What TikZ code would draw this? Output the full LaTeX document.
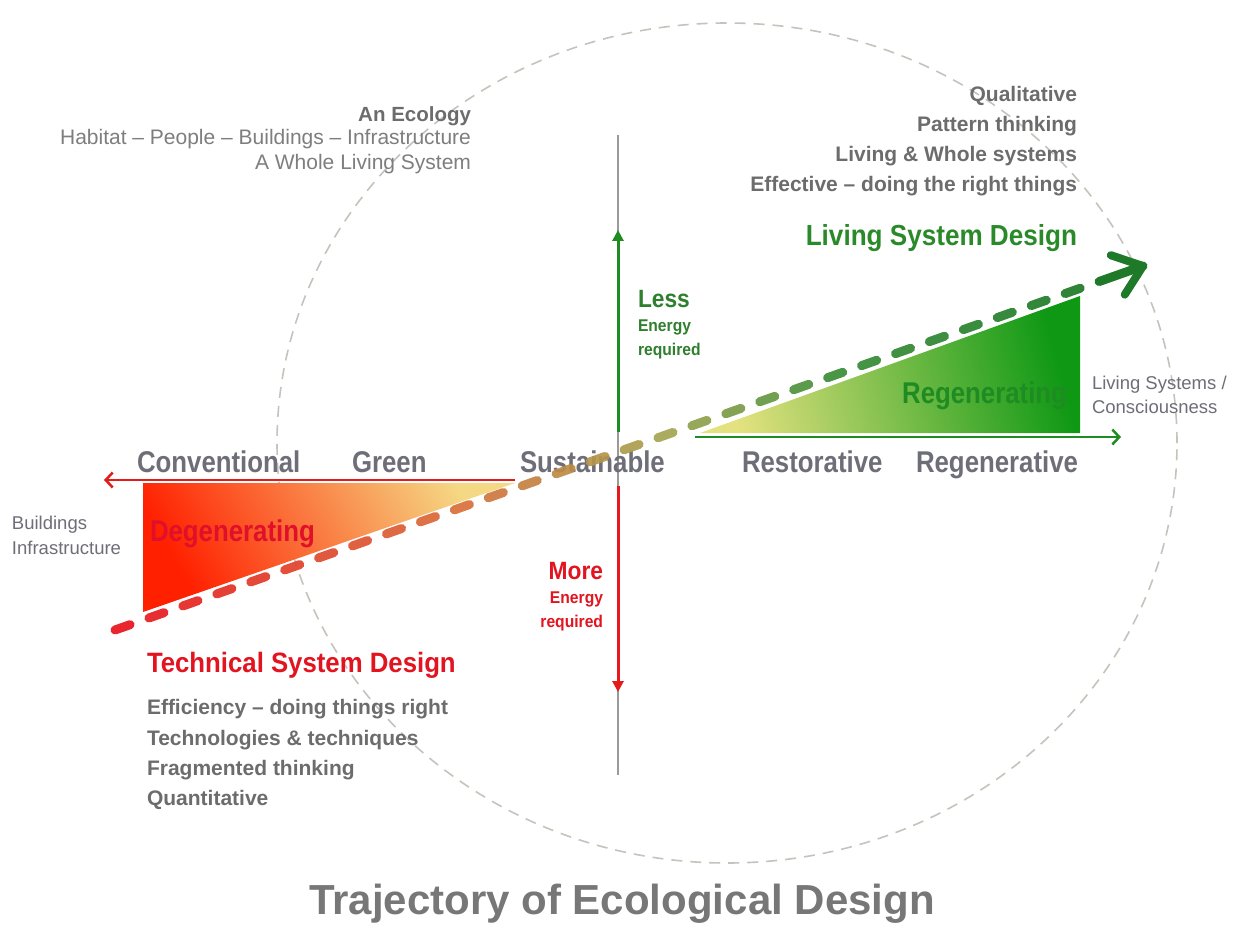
\documentclass[tikz,border=0pt]{standalone}
\usepackage{fontspec}
\setmainfont{Liberation Sans}
\usetikzlibrary{calc,arrows.meta}
\definecolor{tgray}{HTML}{6C6C6C}
\definecolor{lgray}{HTML}{7E7E7E}
\definecolor{cgray}{HTML}{6E6E78}
\definecolor{titlegray}{HTML}{777777}
\definecolor{cred}{HTML}{E2141F}
\definecolor{degred}{HTML}{E0102A}
\definecolor{cgreen}{HTML}{2A8A2A}
\definecolor{dgreen}{HTML}{1E8C22}
\definecolor{lessgreen}{HTML}{2F7F2F}
\definecolor{circ}{HTML}{C4C4BC}
\definecolor{axisgray}{HTML}{9A9A9A}
\definecolor{aRed}{HTML}{E51A1A}
\definecolor{aGreen}{HTML}{1E8C22}
\definecolor{dRed}{HTML}{E8141C}
\definecolor{dOrange}{HTML}{D8703A}
\definecolor{dOlive}{HTML}{A4A652}
\definecolor{dGreen}{HTML}{3A8E38}
\definecolor{dGreenD}{HTML}{1E7A28}
\definecolor{triRed}{HTML}{FF2000}
\definecolor{triOrange}{HTML}{FF8A2C}
\definecolor{triYellow}{HTML}{F5D884}
\definecolor{triLight}{HTML}{E4E280}
\definecolor{triMid}{HTML}{82C44C}
\definecolor{triGreen}{HTML}{0E9814}
\newcommand\fs[1]{\fontsize{#1}{#1}\selectfont}
\newcommand\cnd[2][0.86]{\scalebox{#1}[1]{#2}}
\tikzset{
  graybold/.style={text=tgray, font=\fs{21}\bfseries},
  condlabel/.style={text=cgray, font=\fs{30}\bfseries},
  smallgray/.style={text=cgray, font=\fs{18.5}},
  hline/.style={line width=2.5pt},
  vline/.style={line width=3pt},
}
\begin{document}
\begin{tikzpicture}[x=1pt,y=-1pt, every node/.style={inner sep=0pt, outer sep=0pt}]
\fill[white] (0,0) rectangle (1233,925);
\useasboundingbox (0,0) rectangle (1233,925);

% dashed circle
\draw[circ, line width=1.6pt, dash pattern=on 11pt off 8pt] (727,443) ellipse [x radius=450pt, y radius=420pt];

% coordinates
\coordinate (R1) at (143,483);
\coordinate (R2) at (515,483);
\coordinate (R3) at (143,612);
\coordinate (G1) at (700,433);
\coordinate (G2) at (1080,433);
\coordinate (G3) at (1080,296);
\coordinate (axT) at (618,135);
\coordinate (axB) at (618,775);
\coordinate (upS) at (618,432);
\coordinate (upE) at (618,230);
\coordinate (dnS) at (618,486);
\coordinate (dnE) at (618,692);
\coordinate (raS) at (515,480);
\coordinate (raE) at (104,480);
\coordinate (gaS) at (695,437);
\coordinate (gaE) at (1121,437);
\coordinate (S) at (115,630);
\coordinate (E) at (1143,266);

% triangles
\shade[left color=triRed, middle color=triOrange, right color=triYellow, shading angle=120] (R1) -- (R2) -- (R3) -- cycle;
\shade[left color=triLight, middle color=triMid, right color=triGreen, shading angle=105] (G1) -- (G2) -- (G3) -- cycle;

% axes
\draw[axisgray, line width=1.5pt] (axT) -- (axB);
\draw[aGreen, vline, -{Triangle[length=11pt,width=11pt]}] (upS) -- (upE);
\draw[aRed, vline, -{Triangle[length=11pt,width=11pt]}] (dnS) -- (dnE);
\draw[aRed, hline, -{Straight Barb[length=7pt,width=15pt]}] (raS) -- (raE);
\draw[aGreen, hline, -{Straight Barb[length=7pt,width=15pt]}] (gaS) -- (gaE);

% top-left text
\node[anchor=base east, text=tgray, font=\fs{20.5}\bfseries] (eco) at (471,122) {An Ecology};
\node[anchor=base east, text=lgray, font=\fs{21}] (hab) at (471,145) {Habitat – People – Buildings – Infrastructure};
\node[anchor=base east, text=lgray, font=\fs{21}] (whole) at (471,170) {A Whole Living System};

% top-right text
\node[anchor=base east, graybold] (qual) at (1077,102) {Qualitative};
\node[anchor=base east, graybold] (patt) at (1077,132) {Pattern thinking};
\node[anchor=base east, graybold] (livw) at (1077,162) {Living \& Whole systems};
\node[anchor=base east, graybold] (effe) at (1077,192) {Effective – doing the right things};
\node[anchor=base east, text=cgreen, font=\fs{29}\bfseries] (lsd) at (1077,245) {\cnd[0.9]{Living System Design}};

% less / more
\node[anchor=base west, text=lessgreen, font=\fs{25}\bfseries] (less) at (638,307) {\cnd[0.91]{Less}};
\node[anchor=base west, text=lessgreen, font=\fs{17}\bfseries] (lessE) at (638,331) {\cnd[0.92]{Energy}};
\node[anchor=base west, text=lessgreen, font=\fs{17}\bfseries] (lessR) at (638,355) {\cnd[0.92]{required}};
\node[anchor=base east, text=cred, font=\fs{25}\bfseries] (more) at (603,579) {\cnd[0.91]{More}};
\node[anchor=base east, text=cred, font=\fs{17}\bfseries] (moreE) at (603,603) {\cnd[0.92]{Energy}};
\node[anchor=base east, text=cred, font=\fs{17}\bfseries] (moreR) at (603,627) {\cnd[0.92]{required}};

% axis labels
\node[anchor=base west, condlabel] (conv) at (137,472) {\cnd{Conventional}};
\node[anchor=base west, condlabel] (green) at (352,472) {\cnd{Green}};
\node[anchor=base west, condlabel] (sust) at (520,472) {\cnd{Sustainable}};
\node[anchor=base west, condlabel] (rest) at (742,472) {\cnd{Restorative}};
\node[anchor=base west, condlabel] (regv) at (916,472) {\cnd{Regenerative}};

\node[anchor=base west, text=degred, font=\fs{30}\bfseries] (degen) at (150,541) {\cnd{Degenerating}};
\node[anchor=base east, text=dgreen, font=\fs{30}\bfseries] (regen) at (1067,403) {\cnd{Regenerating}};

\node[anchor=base west, smallgray] (bld) at (12,529) {Buildings};
\node[anchor=base west, smallgray] (inf) at (12,554) {Infrastructure};
\node[anchor=base west, smallgray] (lsys) at (1092,389) {Living Systems /};
\node[anchor=base west, smallgray] (cons) at (1092,413) {Consciousness};

% bottom-left text
\node[anchor=base west, text=cred, font=\fs{28}\bfseries] (tsd) at (147,672) {\cnd[0.92]{Technical System Design}};
\node[anchor=base west, graybold] (effi) at (147,714) {Efficiency – doing things right};
\node[anchor=base west, graybold] (tech) at (147,745) {Technologies \& techniques};
\node[anchor=base west, graybold] (frag) at (147,775) {Fragmented thinking};
\node[anchor=base west, graybold] (quan) at (147,805) {Quantitative};

% title
\node[anchor=base, text=titlegray, font=\fs{42}\bfseries] (title) at (622,914) {Trajectory of Ecological Design};

% trajectory dashes
\foreach \i in {0,...,28}{
  \pgfmathsetmacro\ta{\i*36}
  \pgfmathsetmacro\tb{\i*36+16}
  \ifnum\i<10
    \pgfmathtruncatemacro\m{100-\i*10}\def\col{dRed!\m!dOrange}
  \else\ifnum\i<16
    \pgfmathtruncatemacro\m{100-(\i-10)*17}\def\col{dOrange!\m!dOlive}
  \else\ifnum\i<21
    \pgfmathtruncatemacro\m{100-(\i-16)*20}\def\col{dOlive!\m!dGreen}
  \else
    \pgfmathtruncatemacro\m{100-(\i-21)*14}\def\col{dGreen!\m!dGreenD}
  \fi\fi\fi
  \draw[color=\col, line width=9pt, line cap=round, opacity=0.92] ($(S)!\ta pt!(E)$) -- ($(S)!\tb pt!(E)$);
}
\draw[dGreenD, line width=9pt, line cap=round] ($(S)!1044pt!(E)$) -- (E);
\draw[dGreenD, line width=8pt, line cap=round, line join=round] ($(E)!34pt!38:(S)$) -- (E) -- ($(E)!34pt!-38:(S)$);
\end{tikzpicture}
\end{document}
